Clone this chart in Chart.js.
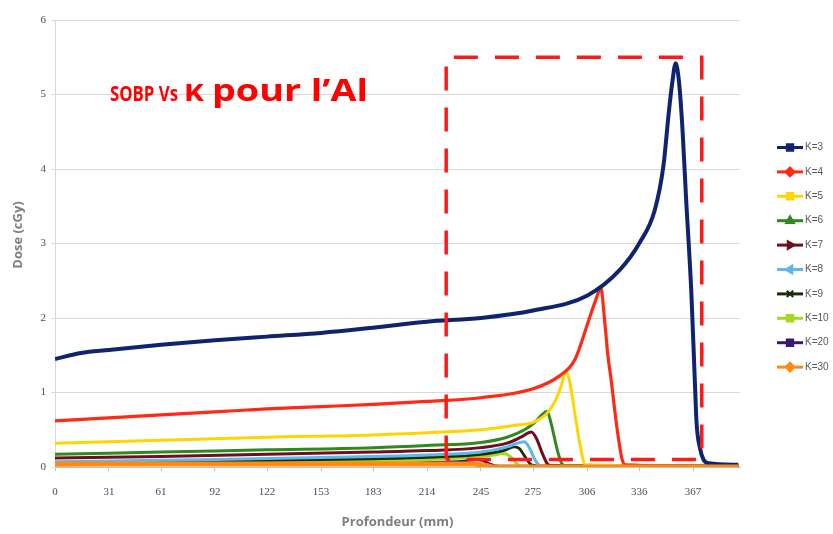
<!DOCTYPE html>
<html>
<head>
<meta charset="utf-8">
<script src="https://cdn.jsdelivr.net/npm/chart.js@4.4.1/dist/chart.umd.min.js"></script>
<style>
  html, body { margin: 0; padding: 0; background: #fff; }
  #wrap { width: 833px; height: 534px; position: relative; }
</style>
</head>
<body>
<div id="wrap"><canvas id="doseChart"></canvas></div>
<script>
// axis ticks
const xTickLabels = [0, 31, 61, 92, 122, 153, 183, 214, 245, 275, 306, 336, 367];
const yTickLabels = [0, 1, 2, 3, 4, 5, 6];

const seriesNames = ['K=3', 'K=4', 'K=5', 'K=6', 'K=7', 'K=8', 'K=9', 'K=10', 'K=20', 'K=30'];

// depth (mm) / dose (cGy)
const k3Depth = [0, 15, 31, 61, 92, 122, 153, 183, 214, 245, 275, 306, 325, 336, 345, 350, 353, 355, 357, 359, 361, 363, 366, 368, 369, 371, 373, 376, 393];
const k3Dose  = [1.45, 1.53, 1.57, 1.64, 1.70, 1.75, 1.80, 1.87, 1.95, 2.00, 2.10, 2.30, 2.65, 3.00, 3.45, 4.05, 4.75, 5.15, 5.42, 5.15, 4.50, 3.60, 2.35, 1.17, 0.60, 0.25, 0.10, 0.05, 0.03];

const k4Depth = [0, 31, 61, 92, 122, 153, 183, 214, 245, 275, 290, 299, 307, 311, 314, 316, 318, 320, 322, 324, 326, 328, 393];
const k4Dose  = [0.62, 0.66, 0.70, 0.74, 0.78, 0.81, 0.84, 0.88, 0.93, 1.05, 1.22, 1.44, 1.97, 2.24, 2.40, 2.00, 1.50, 1.15, 0.75, 0.40, 0.12, 0.03, 0.01];

const k5Depth = [0, 61, 122, 183, 214, 245, 265, 275, 283, 288, 291, 294, 296, 299, 302, 305, 393];
const k5Dose  = [0.32, 0.36, 0.40, 0.43, 0.46, 0.50, 0.56, 0.60, 0.72, 0.90, 1.08, 1.29, 1.15, 0.72, 0.30, 0.03, 0.01];

const k6Depth = [0, 61, 122, 183, 214, 245, 260, 270, 276, 280, 283, 285, 287, 289, 291, 293, 393];
const k6Dose  = [0.17, 0.20, 0.23, 0.26, 0.29, 0.33, 0.40, 0.50, 0.60, 0.70, 0.75, 0.62, 0.42, 0.22, 0.07, 0.02, 0.01];

const k7Depth = [0, 61, 122, 183, 214, 245, 260, 268, 274, 277, 280, 283, 285, 393];
const k7Dose  = [0.12, 0.14, 0.17, 0.20, 0.22, 0.26, 0.32, 0.40, 0.47, 0.38, 0.20, 0.05, 0.02, 0.01];

const k8Depth = [0, 92, 183, 214, 245, 260, 266, 270, 273, 276, 279, 393];
const k8Dose  = [0.07, 0.10, 0.14, 0.16, 0.20, 0.27, 0.32, 0.34, 0.25, 0.10, 0.02, 0.01];

const k9Depth = [0, 92, 183, 214, 245, 258, 264, 267, 270, 273, 275, 393];
const k9Dose  = [0.05, 0.08, 0.11, 0.13, 0.17, 0.22, 0.27, 0.25, 0.15, 0.05, 0.02, 0.01];

const k10Depth = [0, 92, 183, 214, 240, 252, 258, 262, 265, 268, 393];
const k10Dose  = [0.04, 0.06, 0.08, 0.10, 0.13, 0.16, 0.18, 0.14, 0.06, 0.01, 0.01];

const k20Depth = [0, 92, 183, 214, 235, 242, 246, 250, 255, 393];
const k20Dose  = [0.03, 0.04, 0.05, 0.06, 0.08, 0.10, 0.09, 0.04, 0.01, 0.01];

const k30Depth = [0, 92, 183, 214, 240, 248, 252, 393];
const k30Dose  = [0.04, 0.04, 0.04, 0.04, 0.04, 0.02, 0.0, 0.0];

// dashed box (depth / dose corners)
const boxDepth = [225, 225, 372, 372, 225];
const boxDose  = [0.1, 5.5, 5.5, 0.1, 0.1];

const depths = [k3Depth, k4Depth, k5Depth, k6Depth, k7Depth, k8Depth, k9Depth, k10Depth, k20Depth, k30Depth];
const doses  = [k3Dose, k4Dose, k5Dose, k6Dose, k7Dose, k8Dose, k9Dose, k10Dose, k20Dose, k30Dose];

// styles
const colors = ['#0f2470', '#ff2a14', '#ffd500', '#2f8a1c', '#6e0f1e', '#5cb8f2', '#1a2a0a', '#a6d81c', '#3a1a70', '#ff8a10'];
const markers = [
  { style: 'rect', rot: 0 }, { style: 'rectRot', rot: 0 }, { style: 'rect', rot: 0 },
  { style: 'triangle', rot: 0 }, { style: 'triangle', rot: 90 }, { style: 'triangle', rot: -90 },
  { style: 'crossRot', rot: 0 }, { style: 'rect', rot: 0 }, { style: 'rect', rot: 0 }, { style: 'rectRot', rot: 0 }
];
const widths = [4, 3.2, 3, 3, 3, 3, 2.8, 3, 2.8, 5];

const toPoints = (xs, ys) => xs.map((x, i) => ({ x: x, y: ys[i] }));

const datasets = seriesNames.map((name, i) => ({
  label: name,
  data: toPoints(depths[i], doses[i]),
  borderColor: colors[i],
  backgroundColor: colors[i],
  borderWidth: widths[i],
  pointRadius: 0,
  cubicInterpolationMode: 'monotone',
  order: i === 9 ? -1 : i
}));

datasets.push({
  label: 'box',
  data: toPoints(boxDepth, boxDose),
  borderColor: '#ff1a1a',
  borderWidth: 3.5,
  borderDash: [24, 17],
  pointRadius: 0,
  tension: 0,
  order: -2
});

// title text, y title + legend drawn by hand
const overlayPlugin = {
  id: 'overlay',
  afterDraw(chart) {
    const ctx = chart.ctx;
    ctx.save();

    function fitText(txt, size, x, right, y) {
      ctx.font = 'bold ' + size + 'px "Open Sans", sans-serif';
      const w = ctx.measureText(txt).width;
      ctx.save();
      ctx.translate(x, y);
      ctx.scale((right - x) / w, 1);
      ctx.fillText(txt, 0, 0);
      ctx.restore();
    }
    ctx.fillStyle = '#ff0000';
    ctx.textBaseline = 'alphabetic';
    ctx.textAlign = 'left';
    fitText('SOBP Vs', 21, 110, 178, 101);
    fitText('\u03ba', 30, 184, 204, 101);
    fitText('pour l\u2019Al', 30, 212, 368, 101);

    // y axis title
    ctx.save();
    ctx.translate(18, 235);
    ctx.rotate(-Math.PI / 2);
    ctx.fillStyle = '#7f7f7f';
    ctx.font = 'bold 13px "Open Sans", sans-serif';
    ctx.textAlign = 'center';
    ctx.textBaseline = 'middle';
    ctx.fillText('Dose (cGy)', 0, 0);
    ctx.restore();

    // legend
    for (let i = 0; i < seriesNames.length; i++) {
      const y = 147.5 + i * 24.4;
      ctx.strokeStyle = colors[i];
      ctx.lineWidth = 3;
      ctx.setLineDash([]);
      ctx.beginPath();
      ctx.moveTo(777, y);
      ctx.lineTo(803, y);
      ctx.stroke();
      ctx.fillStyle = colors[i];
      ctx.strokeStyle = colors[i];
      ctx.lineWidth = 2;
      Chart.helpers.drawPoint(ctx, { pointStyle: markers[i].style, radius: 4.5, rotation: markers[i].rot, borderWidth: 2 }, 790, y);
      ctx.fillStyle = '#595959';
      ctx.font = '10px "Liberation Sans", sans-serif';
      ctx.textAlign = 'left';
      ctx.textBaseline = 'middle';
      ctx.fillText(seriesNames[i], 805, y);
    }
    ctx.restore();
  }
};

const ctx = document.getElementById('doseChart').getContext('2d');
const doseChart = new Chart(ctx, {
  type: 'line',
  data: { datasets: datasets },
  options: {
    responsive: true,
    maintainAspectRatio: false,
    animation: false,
    layout: { padding: { top: 20, right: 93, left: 0, bottom: 0 } },
    plugins: {
      legend: { display: false },
      tooltip: { enabled: false }
    },
    scales: {
      x: {
        type: 'linear',
        min: 0,
        max: 394,
        afterBuildTicks: (scale) => { scale.ticks = xTickLabels.map(v => ({ value: v })); },
        afterFit: (scale) => { scale.height = 67; },
        ticks: {
          autoSkip: false,
          maxRotation: 0,
          color: '#4d4d4d',
          padding: 15,
          font: { family: '"Liberation Serif", serif', size: 11 },
          callback: (v) => v
        },
        grid: { drawOnChartArea: false, tickLength: 4, color: '#bfbfbf' },
        border: { color: '#bfbfbf' },
        title: {
          display: true,
          text: 'Profondeur (mm)',
          color: '#7f7f7f',
          font: { family: '"Open Sans", sans-serif', size: 13, weight: 'bold' },
          padding: { top: 0, bottom: 4 }
        }
      },
      y: {
        min: 0,
        max: 6,
        afterBuildTicks: (scale) => { scale.ticks = yTickLabels.map(v => ({ value: v })); },
        afterFit: (scale) => { scale.width = 55; },
        ticks: {
          color: '#4d4d4d',
          padding: 5,
          font: { family: '"Liberation Serif", serif', size: 11 }
        },
        grid: { color: '#d9d9d9', tickLength: 4 },
        border: { color: '#d9d9d9' }
      }
    }
  },
  plugins: [overlayPlugin]
});
</script>
</body>
</html>
